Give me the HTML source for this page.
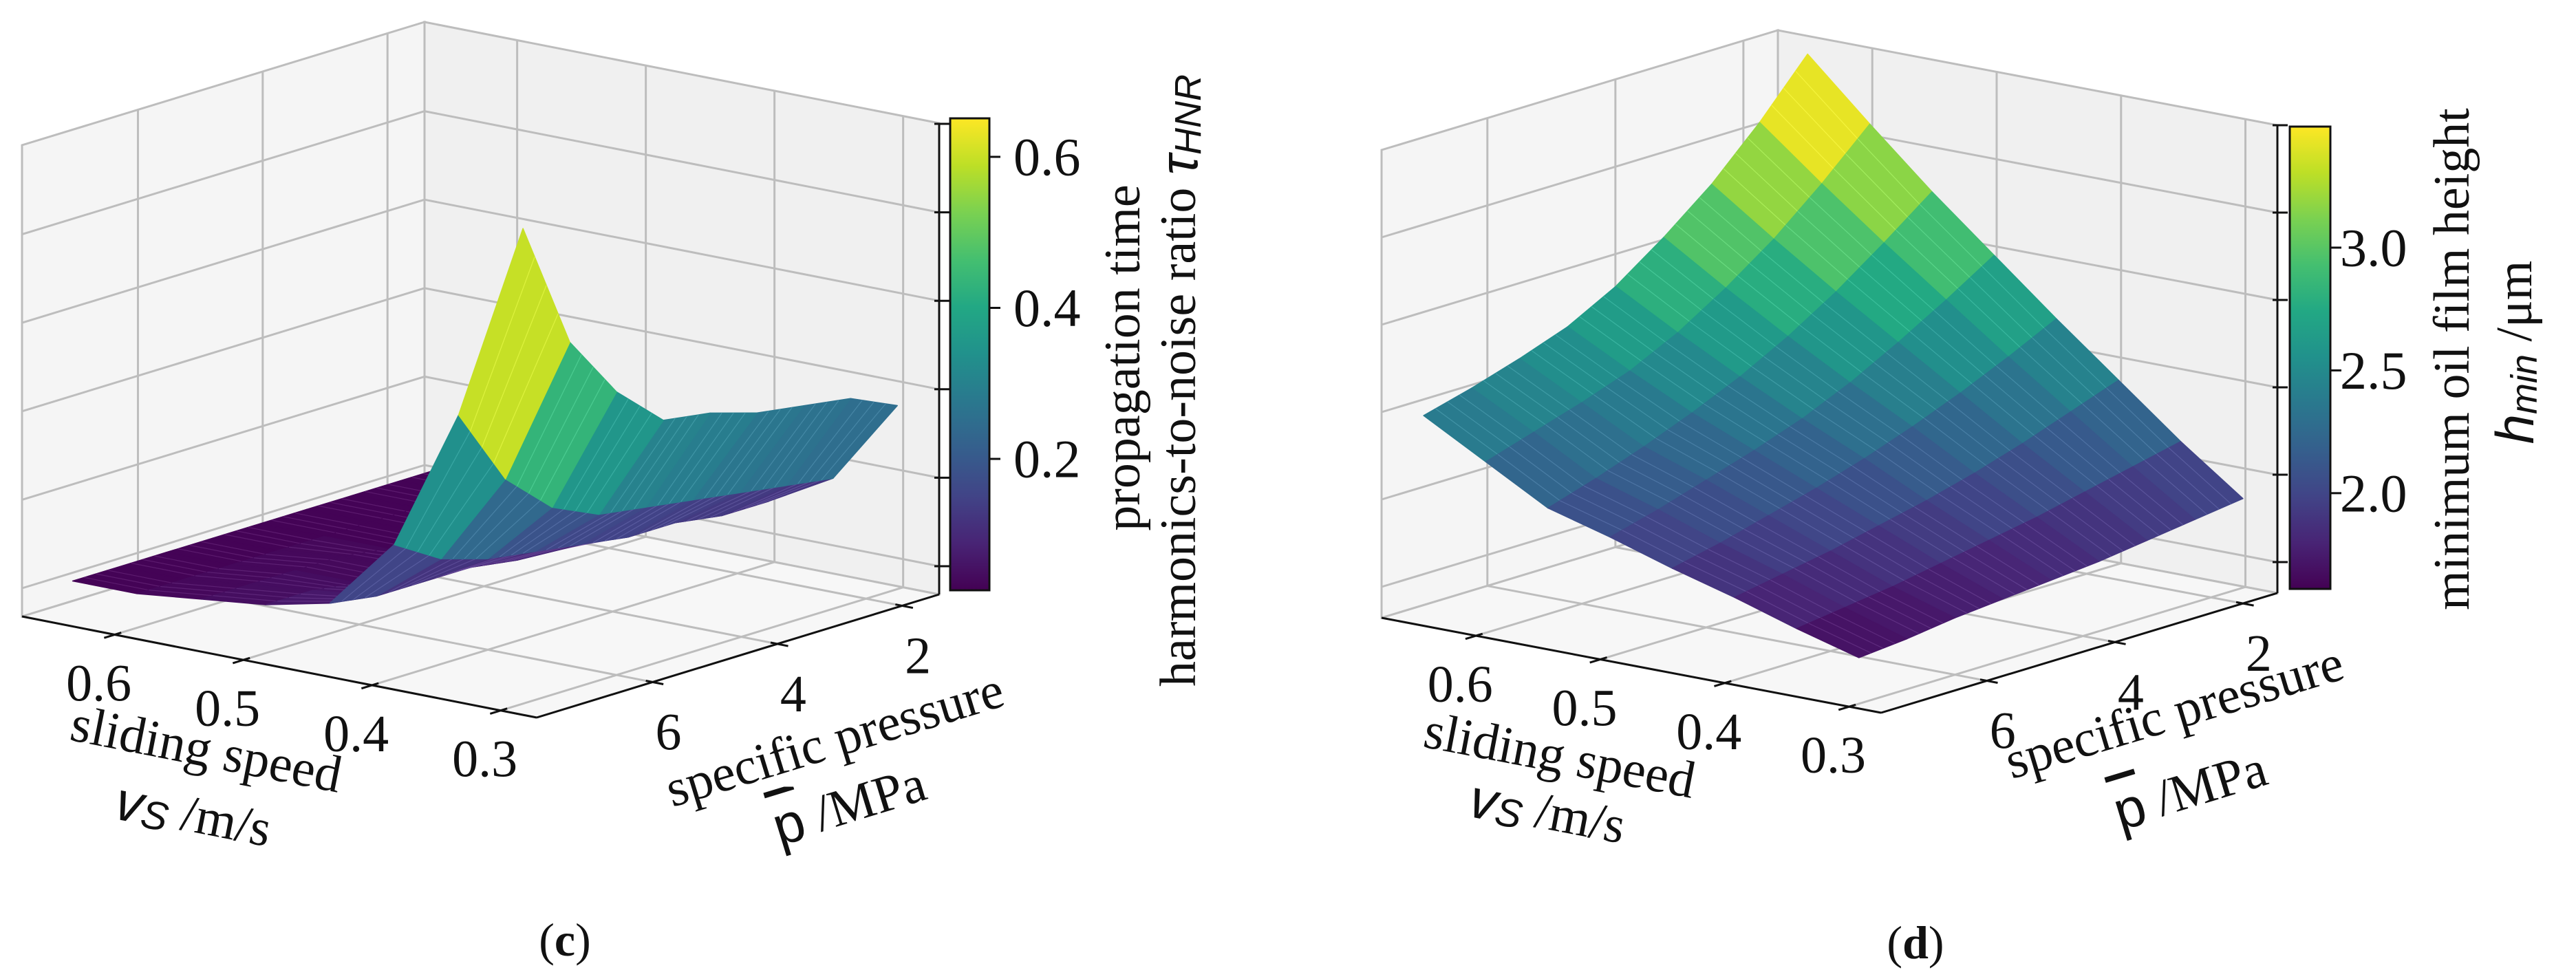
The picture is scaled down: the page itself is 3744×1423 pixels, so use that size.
<!DOCTYPE html>
<html><head><meta charset="utf-8"><style>
html,body{margin:0;padding:0;background:#fff;}
svg{display:block;}
text{font-family:"Liberation Serif",serif;fill:#111;}
</style></head><body>
<svg id="fig" width="3744" height="1423" viewBox="0 0 3744 1423" xmlns="http://www.w3.org/2000/svg"></svg>
<script>
// ---- data ----
const speeds = [0.30,0.35,0.40,0.45,0.50,0.55,0.60,0.65];
const pressures = [1.5,2.25,3.0,3.75,4.5,5.25,6.0,6.75,7.5];
const tauValues = [
 [0.24,0.27,0.28,0.29,0.31,0.32,0.38,0.47,0.65],
 [0.12,0.13,0.14,0.15,0.16,0.17,0.20,0.26,0.37],
 [0.07,0.07,0.08,0.08,0.09,0.10,0.11,0.13,0.17],
 [0.04,0.04,0.05,0.05,0.05,0.06,0.06,0.06,0.07],
 [0.03,0.03,0.04,0.04,0.04,0.04,0.04,0.05,0.05],
 [0.03,0.03,0.03,0.03,0.03,0.04,0.04,0.04,0.04],
 [0.03,0.03,0.03,0.03,0.03,0.03,0.03,0.03,0.03],
 [0.03,0.03,0.03,0.03,0.03,0.03,0.03,0.03,0.03]
];
const hminValues = [
 [1.81,1.78,1.75,1.72,1.70,1.68,1.66,1.63,1.61],
 [2.02,1.97,1.92,1.87,1.83,1.79,1.75,1.72,1.69],
 [2.25,2.17,2.09,2.02,1.96,1.91,1.86,1.82,1.78],
 [2.48,2.37,2.27,2.18,2.10,2.03,1.97,1.91,1.86],
 [2.72,2.58,2.45,2.33,2.23,2.15,2.08,2.01,1.95],
 [2.96,2.79,2.63,2.49,2.37,2.27,2.18,2.10,2.03],
 [3.22,3.01,2.82,2.66,2.52,2.41,2.33,2.26,2.19],
 [3.49,3.24,3.02,2.84,2.68,2.56,2.48,2.41,2.35]
];
const speedTicks = [0.6,0.5,0.4,0.3];
const pressureTicks = [6,4,2];
const cbTicksC = [0.2,0.4,0.6];
const cbTicksD = [2.0,2.5,3.0];

const NS='http://www.w3.org/2000/svg';
const svg=document.getElementById('fig');
function el(tag,attrs,parent){const e=document.createElementNS(NS,tag);for(const k in attrs)e.setAttribute(k,attrs[k]);(parent||svg).appendChild(e);return e;}
const VIR=['#440154','#482475','#414487','#355f8d','#2a788e','#21918c','#22a884','#44bf70','#7ad151','#bddf26','#fde725'];
function hex(h){return [parseInt(h.substr(1,2),16),parseInt(h.substr(3,2),16),parseInt(h.substr(5,2),16)];}
function viridis(t){t=Math.max(0,Math.min(1,t));const f=t*10,i=Math.min(9,Math.floor(f)),u=f-i;const a=hex(VIR[i]),b=hex(VIR[i+1]);return a.map((v,k)=>Math.round(v+(b[k]-v)*u));}
function rgb(c,d){d=d||0;return 'rgb('+c.map(v=>Math.min(255,v+d)).join(',')+')';}

const charts=[
 {key:'c',L:[32,896],F:[780,1043],R:[1365,864],wallH:685,
  ts:s=>0.18+(0.6-s)*2.5, tp:p=>0.908+(2-p)*0.155, lift:z=>(z+0.018)*1034,
  gridLift0:41,gridStep:128.6, values:tauValues,
  cb:{x:1381,w:57,top:172,bot:858,vmax:0.651,vmin:0.026,ticks:cbTicksC,lblX:1473},
  cbLabel:[{x:1632,y:520,t:'propagation time'},{x:1713,y:553,t:'harmonics-to-noise ratio ',sym:'τ',sub:'HNR'}],
  sLab:[300,1089],vLab:[281,1184],pLab:[1213,1075],mLab:[1234,1170],panel:[821,1366]},
 {key:'d',L:[2008,898],F:[2734,1036],R:[3310,862],wallH:680,
  ts:s=>0.189+(0.6-s)*2.49, tp:p=>0.913+(2-p)*0.1615, lift:z=>(z-1.396)*313,
  gridLift0:45,gridStep:127, values:hminValues,
  cb:{x:3328,w:59,top:184,bot:856,vmax:3.493,vmin:1.61,ticks:cbTicksD,lblX:3401},
  cbLabel:[{x:3564,y:522,t:'minimum oil film height'},{x:3655,y:512,t:'',sym:'h',sub:'min',after:' /μm'}],
  sLab:[2267,1098],vLab:[2249,1180],pLab:[3160,1035],mLab:[3183,1148],panel:[2784,1370]}
];

charts.forEach(C=>{
 const g=el('g',{});
 
 
 const ds=[C.F[0]-C.L[0],C.F[1]-C.L[1]], dp=[C.R[0]-C.F[0],C.R[1]-C.F[1]];
 const P=(a,b,h)=>[C.L[0]+a*ds[0]+b*dp[0], C.L[1]+a*ds[1]+b*dp[1]-(h||0)];
 const pts=a=>a.map(p=>p[0].toFixed(1)+','+p[1].toFixed(1)).join(' ');
 const H=C.wallH;
 const lw=el('polygon',{points:pts([P(0,0),P(0,1),P(0,1,H),P(0,0,H)]),fill:'#f5f5f5',stroke:'#bdbdbd','stroke-width':3},g);
 
 const rw=el('polygon',{points:pts([P(0,1),P(1,1),P(1,1,H),P(0,1,H)]),fill:'#f0f0f0',stroke:'#bdbdbd','stroke-width':3},g);
 
 const fl=el('polygon',{points:pts([P(0,0),P(0,1),P(1,1),P(1,0)]),fill:'#f7f7f7',stroke:'#bdbdbd','stroke-width':3},g);
 
 const gl=(a,b)=>{const l=el('line',{x1:a[0],y1:a[1],x2:b[0],y2:b[1],stroke:'#bdbdbd','stroke-width':3},g);};
 for(let i=0;i<5;i++){const h=C.gridLift0+i*C.gridStep;gl(P(0,0,h),P(0,1,h));gl(P(0,1,h),P(1,1,h));}
 speedTicks.forEach(s=>{const a=C.ts(s);gl(P(a,0),P(a,1));gl(P(a,1),P(a,1,H));});
 pressureTicks.forEach(p=>{const b=C.tp(p);gl(P(0,b),P(1,b));gl(P(0,b),P(0,b,H));});
 const ax=(a,b,n)=>{const l=el('line',{x1:a[0],y1:a[1],x2:b[0],y2:b[1],stroke:'#111','stroke-width':3},g);};
 ax(P(0,0),P(1,0),'speed-axis');ax(P(1,0),P(1,1),'pressure-axis');ax(P(1,1),P(1,1,H),'z-axis');
 const lp=Math.hypot(dp[0],dp[1]),ls=Math.hypot(ds[0],ds[1]);
 speedTicks.forEach(s=>{const q=P(C.ts(s),0);const u=[dp[0]/lp,dp[1]/lp];
  const t=el('line',{x1:q[0]-u[0]*16,y1:q[1]-u[1]*16,x2:q[0]+u[0]*10,y2:q[1]+u[1]*10,stroke:'#111','stroke-width':3},g);
  
  const tx=el('text',{x:q[0]-23,y:q[1]+71,'font-size':76,'text-anchor':'middle','dominant-baseline':'central'},g);tx.textContent=s.toFixed(1);
  });
 pressureTicks.forEach(p=>{const q=P(1,C.tp(p));const u=[ds[0]/ls,ds[1]/ls];
  const t=el('line',{x1:q[0]-u[0]*10,y1:q[1]-u[1]*10,x2:q[0]+u[0]*16,y2:q[1]+u[1]*16,stroke:'#111','stroke-width':3},g);
  
  const tx=el('text',{x:q[0]+23,y:q[1]+73,'font-size':76,'text-anchor':'middle','dominant-baseline':'central'},g);tx.textContent=String(p);
  });
 for(let i=0;i<6;i++){const q=P(1,1,C.gridLift0+i*C.gridStep);
  const t=el('line',{x1:q[0]-7,y1:q[1],x2:q[0]+15,y2:q[1],stroke:'#111','stroke-width':3},g);
  }
 // surface
 const V=C.values,cb=C.cb;
 const cells=[];
 for(let i=0;i<speeds.length-1;i++)for(let j=0;j<pressures.length-1;j++){
  const a0=C.ts(speeds[i]),a1=C.ts(speeds[i+1]),b0=C.tp(pressures[j]),b1=C.tp(pressures[j+1]);
  cells.push({i,j,depth:(a0+a1)/2-(b0+b1)/2});}
 cells.sort((x,y)=>x.depth-y.depth);
 const sg=el('g',{},g);
 cells.forEach(c=>{const i=c.i,j=c.j;
  const z=[[V[i][j],V[i][j+1]],[V[i+1][j],V[i+1][j+1]]];
  const mx=Math.max(z[0][0],z[0][1],z[1][0],z[1][1]);
  const mean=(z[0][0]+z[0][1]+z[1][0]+z[1][1])/4;
  const cv=0.75*mx+0.25*mean;
  const col=viridis((cv-cb.vmin)/(cb.vmax-cb.vmin));
  const pt=(u,v)=>{const s=speeds[i]+(speeds[i+1]-speeds[i])*u,p=pressures[j]+(pressures[j+1]-pressures[j])*v;
   const zz=z[0][0]*(1-u)*(1-v)+z[1][0]*u*(1-v)+z[0][1]*(1-u)*v+z[1][1]*u*v;return P(C.ts(s),C.tp(p),C.lift(zz));};
  const poly=el('polygon',{points:pts([pt(0,0),pt(1,0),pt(1,1),pt(0,1)]),fill:rgb(col),stroke:rgb(col),'stroke-width':1.5,'stroke-linejoin':'round'},sg);
  
  for(let k=1;k<4;k++){const v=k/4;const a=pt(0,v),b=pt(1,v);
   el('line',{x1:a[0],y1:a[1],x2:b[0],y2:b[1],stroke:rgb(col,40),'stroke-width':1.2,'stroke-opacity':0.6},sg);}
 });
 // colorbar
 const gid='grad'+C.key;const defs=el('defs',{},g);const lg=el('linearGradient',{id:gid,x1:0,y1:1,x2:0,y2:0},defs);
 VIR.forEach((h,k)=>el('stop',{offset:(k*10)+'%','stop-color':h},lg));
 const bar=el('rect',{x:cb.x,y:cb.top,width:cb.w,height:cb.bot-cb.top,fill:'url(#'+gid+')',stroke:'#111','stroke-width':3},g);
 
 cb.ticks.forEach(v=>{const y=cb.bot-(v-cb.vmin)/(cb.vmax-cb.vmin)*(cb.bot-cb.top);
  el('line',{x1:cb.x+cb.w,y1:y,x2:cb.x+cb.w+16,y2:y,stroke:'#111','stroke-width':3},g);
  const tx=el('text',{x:cb.lblX,y:y,'font-size':78,'dominant-baseline':'central'},g);tx.textContent=v.toFixed(1);
  });
 C.cbLabel.forEach(L=>{const tx=el('text',{x:L.x,y:L.y,'font-size':74,'text-anchor':'middle','dominant-baseline':'central',transform:'rotate(-90 '+L.x+' '+L.y+')'},g);
  
  if(L.t){const a=el('tspan',{},tx);a.textContent=L.t;}
  if(L.sym){const b=el('tspan',{'font-style':'italic','font-family':'Liberation Sans, sans-serif','font-size':78},tx);b.textContent=L.sym;
   const c=el('tspan',{'font-style':'italic','font-family':'Liberation Sans, sans-serif','font-size':54,dy:14},tx);c.textContent=L.sub;}
  if(L.after){const d=el('tspan',{dy:-14},tx);d.textContent=L.after;}
 });
 // axis labels
 const angS=Math.atan2(ds[1],ds[0])*180/Math.PI, angP=Math.atan2(dp[1],dp[0])*180/Math.PI;
 const t1=el('text',{x:C.sLab[0],y:C.sLab[1],'font-size':76,'text-anchor':'middle','dominant-baseline':'central',transform:'rotate('+angS.toFixed(1)+' '+C.sLab[0]+' '+C.sLab[1]+')'},g);
 t1.textContent='sliding speed';
 const t2=el('text',{x:C.vLab[0],y:C.vLab[1],'font-size':76,'text-anchor':'middle','dominant-baseline':'central',transform:'rotate('+angS.toFixed(1)+' '+C.vLab[0]+' '+C.vLab[1]+')'},g);
 
 const v1=el('tspan',{'font-style':'italic','font-family':'Liberation Sans, sans-serif','font-size':80},t2);v1.textContent='v';
 const v2=el('tspan',{'font-style':'italic','font-family':'Liberation Sans, sans-serif','font-size':58,dy:12},t2);v2.textContent='S';
 const v3=el('tspan',{dy:-12},t2);v3.textContent=' /m/s';
 const t3=el('text',{x:C.pLab[0],y:C.pLab[1],'font-size':76,'text-anchor':'middle','dominant-baseline':'central',transform:'rotate('+angP.toFixed(1)+' '+C.pLab[0]+' '+C.pLab[1]+')'},g);
 t3.textContent='specific pressure';
 const t4=el('text',{x:C.mLab[0],y:C.mLab[1],'font-size':76,'text-anchor':'middle','dominant-baseline':'central',transform:'rotate('+angP.toFixed(1)+' '+C.mLab[0]+' '+C.mLab[1]+')'},g);
 
 const m1=el('tspan',{'font-family':'Liberation Sans, sans-serif','font-size':80,'text-decoration':'overline'},t4);m1.textContent='p';
 const m2=el('tspan',{},t4);m2.textContent=' /MPa';
 const pl=el('text',{x:C.panel[0],y:C.panel[1],'font-size':68,'text-anchor':'middle','dominant-baseline':'central'},g);
 
 const q1=el('tspan',{},pl);q1.textContent='(';const q2=el('tspan',{'font-weight':'bold'},pl);q2.textContent=C.key;const q3=el('tspan',{},pl);q3.textContent=')';
});
</script>
</body></html>
